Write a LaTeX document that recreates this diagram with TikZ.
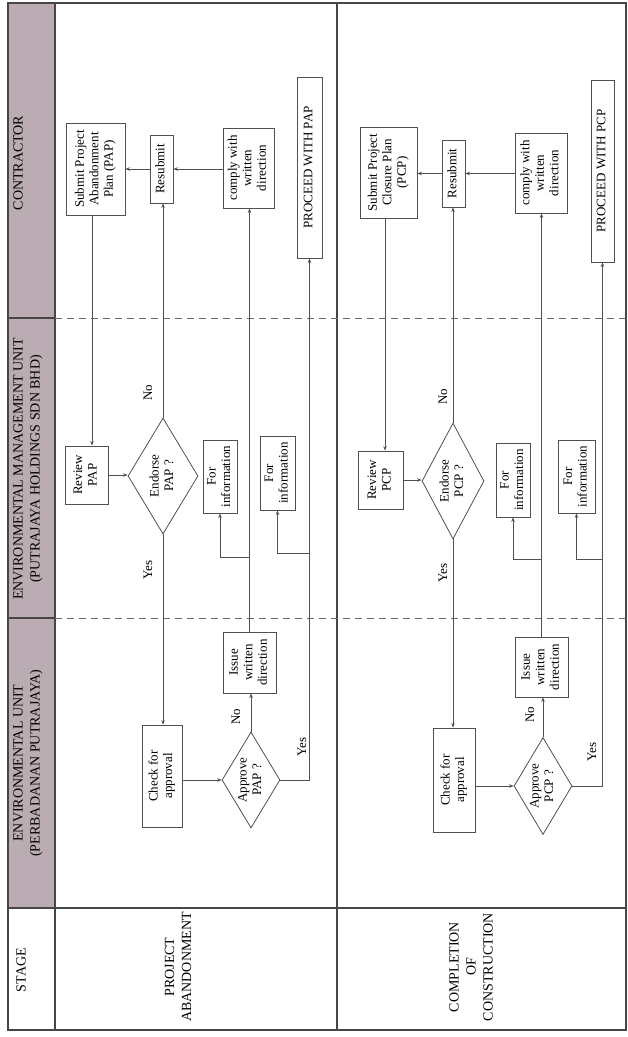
\documentclass[tikz,border=0pt]{standalone}
\usepackage{fontspec}
\setmainfont{Liberation Serif}
\usetikzlibrary{shapes.geometric,arrows.meta}
\definecolor{hdr}{RGB}{186,172,178}
\definecolor{ln}{RGB}{80,80,80}
\definecolor{frm}{RGB}{70,70,70}
\newcommand{\rtxt}[1]{\rotatebox{90}{\begin{tabular}{@{}c@{}}#1\end{tabular}}}
\newcommand{\boxfont}{\fontsize{13}{14.5}\selectfont}
\newcommand{\hdrfont}{\fontsize{14}{17}\selectfont}
\begin{document}
\begin{tikzpicture}[x=1pt,y=-1pt,
  box/.style={draw=ln,line width=0.8pt,fill=white,inner sep=0pt,font=\boxfont},
  dia/.style={draw=ln,line width=0.8pt,fill=white,diamond,aspect=0.6,inner sep=0pt,font=\boxfont},
  arr/.style={draw=ln,line width=0.7pt,-{Stealth[length=4.5pt,width=3.5pt]}},
  frame/.style={draw=frm,line width=1.2pt},
  lane/.style={draw=frm!80,line width=0.9pt,dash pattern=on 7pt off 5pt},
  lbl/.style={font=\boxfont,inner sep=0pt,rotate=90},
  hlbl/.style={font=\hdrfont,inner sep=0pt,rotate=90,align=center}]
\useasboundingbox (0,0) rectangle (628,1037);
% header column and frame
\fill[hdr] (8,3) rectangle (55,908);
\draw[frame] (8,3) rectangle (626,1030);
\draw[frame] (55,3) -- (55,1030);
\draw[frame] (337,3) -- (337,1030);
\draw[frame] (8,908) -- (626,908);
\draw[frame] (8,318) -- (55,318);
\draw[frame] (8,618) -- (55,618);
\draw[lane] (55,318) -- (626,318);
\draw[lane] (55,618) -- (626,618);
% header labels
\node[hlbl] (hcon) at (18,163) {CONTRACTOR};
\node[hlbl] (hemu) at (28,469) {ENVIRONMENTAL MANAGEMENT UNIT\\(PUTRAJAYA HOLDINGS SDN BHD)};
\node[hlbl] (heu) at (28,763) {ENVIRONMENTAL UNIT\\(PERBADANAN PUTRAJAYA)};
\node[hlbl] (hst) at (21,970) {STAGE};
\node[hlbl] (st1) at (178,967) {PROJECT\\ABANDONMENT};
\node[hlbl] (st2) at (471,967) {COMPLETION\\OF\\CONSTRUCTION};
% ---------- row 1 : project abandonment ----------
\node[box,minimum width=59pt,minimum height=92pt] (sub1) at (95.5,169) {\rtxt{Submit Project\\Abandonment\\Plan (PAP)}};
\node[box,minimum width=23pt,minimum height=68pt] (res1) at (161.5,169) {\rtxt{Resubmit}};
\node[box,minimum width=51pt,minimum height=80pt] (com1) at (248.5,168) {\rtxt{comply with\\written\\direction}};
\node[box,minimum width=25pt,minimum height=181pt] (pro1) at (309.5,167.5) {\rtxt{PROCEED WITH PAP}};
\node[box,minimum width=43pt,minimum height=58pt] (rev1) at (86.5,475) {\rtxt{Review\\PAP}};
\node[dia,minimum width=70pt,minimum height=116pt] (end1) at (163,476) {\rtxt{Endorse\\PAP ?}};
\node[box,minimum width=34pt,minimum height=73pt] (fi1a) at (220,476.5) {\rtxt{For\\information}};
\node[box,minimum width=35pt,minimum height=74pt] (fi1b) at (277.5,473) {\rtxt{For\\information}};
\node[box,minimum width=40pt,minimum height=102pt] (chk1) at (162,776) {\rtxt{Check for\\approval}};
\node[dia,minimum width=58pt,minimum height=96pt] (app1) at (251,780) {\rtxt{Approve\\PAP ?}};
\node[box,minimum width=53pt,minimum height=61pt] (iss1) at (249.5,662.5) {\rtxt{Issue\\written\\direction}};
\coordinate (ya) at (0,557);
\coordinate (yb) at (0,553);
\draw[arr] (res1.west) -- (sub1.east |- res1.west);
\draw[arr] (com1.west |- res1.east) -- (res1.east);
\draw[arr] ([xshift=-3.5pt]sub1.south) -- ([xshift=-3.5pt]sub1.south |- rev1.north);
\draw[arr] (rev1.east) -- (rev1.east -| end1.west);
\draw[arr] (end1.north) -- (end1.north |- res1.south);
\draw[arr] (end1.south) -- (end1.south |- chk1.north);
\draw[arr] (chk1.east |- app1.west) -- (app1.west);
\draw[arr] (app1.north) -- (app1.north |- iss1.south);
\draw[arr] (iss1.north) -- (iss1.north |- com1.south);
\draw[arr] (iss1.north |- ya) -| (fi1a.south);
\draw[arr] (app1.east) -| (pro1.south);
\draw[arr] (pro1.south |- yb) -| (fi1b.south);
\node[lbl] (no1) at (148,393) {No};
\node[lbl] (yes1) at (148,570) {Yes};
\node[lbl] (no2) at (236,717) {No};
\node[lbl] (yes2) at (302,747) {Yes};
% ---------- row 2 : completion of construction ----------
\node[box,minimum width=57pt,minimum height=91pt] (sub2) at (388.5,172.5) {\rtxt{Submit Project\\Closure Plan\\(PCP)}};
\node[box,minimum width=23pt,minimum height=67pt] (res2) at (453.5,173.5) {\rtxt{Resubmit}};
\node[box,minimum width=52pt,minimum height=80pt] (com2) at (541,173) {\rtxt{comply with\\written\\direction}};
\node[box,minimum width=23pt,minimum height=182pt] (pro2) at (602.5,171) {\rtxt{PROCEED WITH PCP}};
\node[box,minimum width=45pt,minimum height=58pt] (rev2) at (380.5,480) {\rtxt{Review\\PCP}};
\node[dia,minimum width=62pt,minimum height=116pt] (end2) at (453,481) {\rtxt{Endorse\\PCP ?}};
\node[box,minimum width=34pt,minimum height=74pt] (fi2a) at (513,480) {\rtxt{For\\information}};
\node[box,minimum width=37pt,minimum height=73pt] (fi2b) at (576.5,476.5) {\rtxt{For\\information}};
\node[box,minimum width=42pt,minimum height=104pt] (chk2) at (454,780) {\rtxt{Check for\\approval}};
\node[dia,minimum width=58pt,minimum height=97pt] (app2) at (543,786) {\rtxt{Approve\\PCP ?}};
\node[box,minimum width=53pt,minimum height=60pt] (iss2) at (541.5,667) {\rtxt{Issue\\written\\direction}};
\coordinate (yc) at (0,559);
\draw[arr] (res2.west) -- (sub2.east |- res2.west);
\draw[arr] (com2.west |- res2.east) -- (res2.east);
\draw[arr] ([xshift=-3.5pt]sub2.south) -- ([xshift=-3.5pt]sub2.south |- rev2.north);
\draw[arr] (rev2.east) -- (rev2.east -| end2.west);
\draw[arr] (end2.north) -- (end2.north |- res2.south);
\draw[arr] (end2.south) -- (end2.south |- chk2.north);
\draw[arr] (chk2.east |- app2.west) -- (app2.west);
\draw[arr] (app2.north) -- (app2.north |- iss2.south);
\draw[arr] (iss2.north) -- (iss2.north |- com2.south);
\draw[arr] (iss2.north |- yc) -| (fi2a.south);
\draw[arr] (app2.east) -| (pro2.south);
\draw[arr] (pro2.south |- yc) -| (fi2b.south);
\node[lbl] (no3) at (443,397) {No};
\node[lbl] (yes3) at (443,573) {Yes};
\node[lbl] (no4) at (530,715) {No};
\node[lbl] (yes4) at (592,752) {Yes};
\end{tikzpicture}
\end{document}
